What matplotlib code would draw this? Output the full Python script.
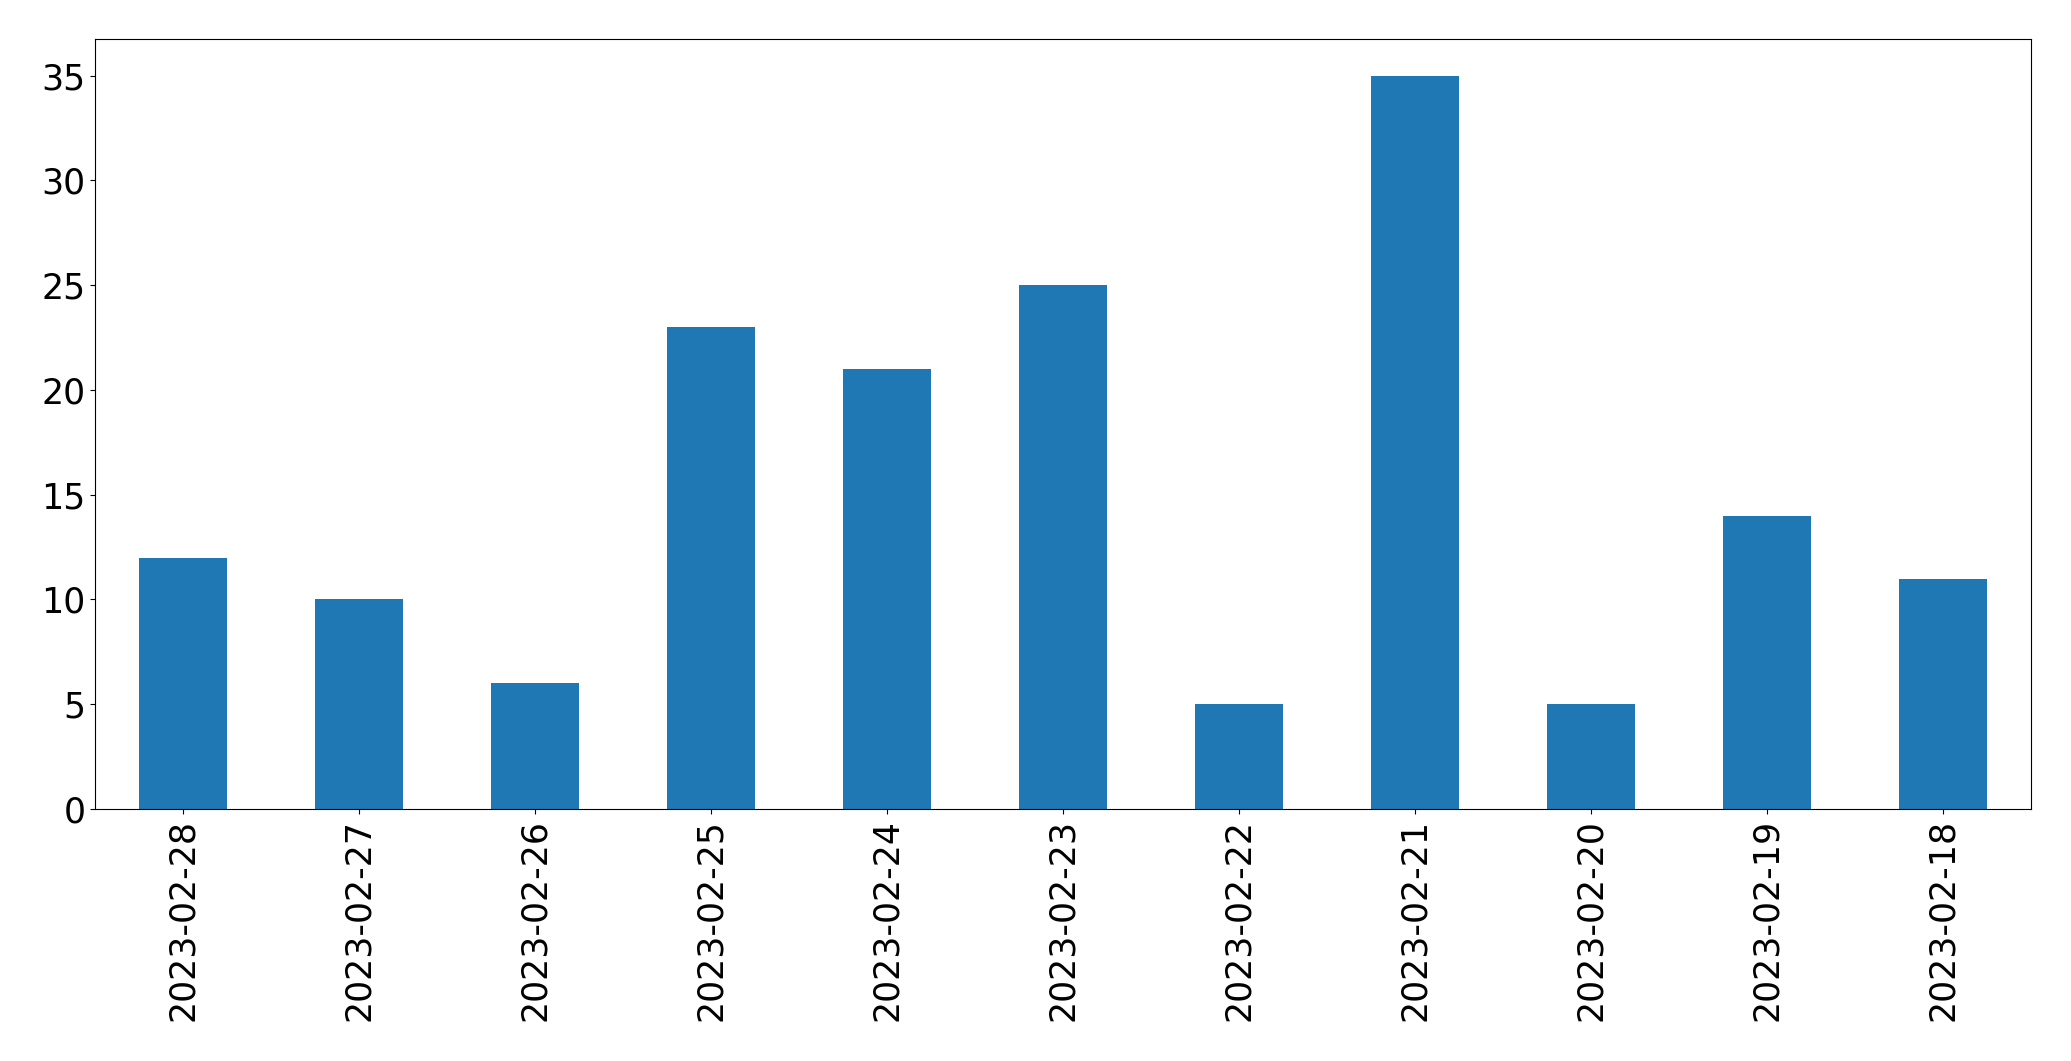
import matplotlib
matplotlib.use("Agg")
import matplotlib.pyplot as plt
import pandas as pd

dates = ['2023-02-28', '2023-02-27', '2023-02-26', '2023-02-25', '2023-02-24', '2023-02-23',
         '2023-02-22', '2023-02-21', '2023-02-20', '2023-02-19', '2023-02-18']
counts = [12, 10, 6, 23, 21, 25, 5, 35, 5, 14, 11]

s = pd.Series(counts, index=dates)

fig = plt.figure(figsize=(20.71, 10.61), dpi=100)
ax = fig.add_axes([95 / 2071, (1061 - 809) / 1061, 1936 / 2071, 770 / 1061])
s.plot(kind='bar', ax=ax, color='#1f77b4')
ax.tick_params(axis='both', labelsize=25)
ax.set_ylim(0, 36.75)

fig.savefig('out.png', dpi=100)
